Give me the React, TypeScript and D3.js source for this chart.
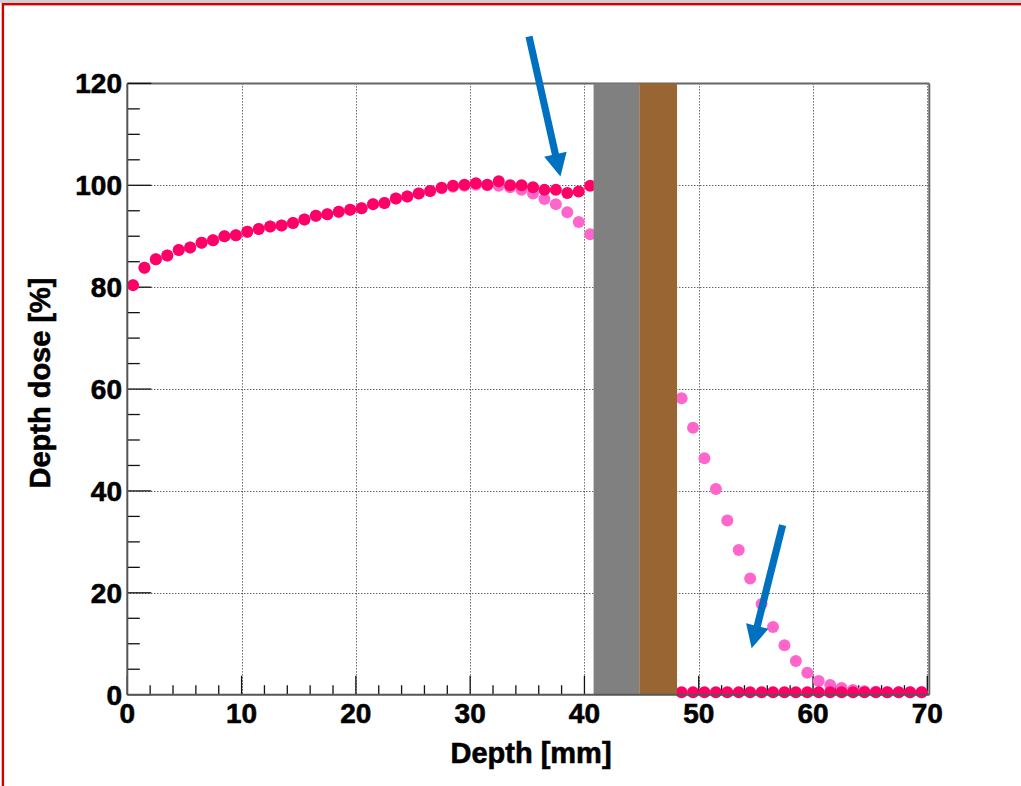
import React from "react";
import * as d3 from "d3";

// Bin centres (mm)
const depthBins = [
  0.5, 1.5, 2.5, 3.5, 4.5, 5.5, 6.5, 7.5, 8.5, 9.5,
  10.5, 11.5, 12.5, 13.5, 14.5, 15.5, 16.5, 17.5, 18.5, 19.5,
  20.5, 21.5, 22.5, 23.5, 24.5, 25.5, 26.5, 27.5, 28.5, 29.5,
  30.5, 31.5, 32.5, 33.5, 34.5, 35.5, 36.5, 37.5, 38.5, 39.5,
  40.5, 41.5, 42.5, 43.5, 44.5, 45.5, 46.5, 47.5, 48.5, 49.5,
  50.5, 51.5, 52.5, 53.5, 54.5, 55.5, 56.5, 57.5, 58.5, 59.5,
  60.5, 61.5, 62.5, 63.5, 64.5, 65.5, 66.5, 67.5, 68.5, 69.5,
];

// Depth dose with the inserted slab (dark pink)
const doseWithSlab: (number | null)[] = [
  80.4, 83.8, 85.5, 86.2, 87.3, 87.8, 88.7, 89.2, 90.0, 90.2,
  90.9, 91.4, 91.9, 92.1, 92.6, 93.3, 94.0, 94.3, 94.8, 95.2,
  95.5, 96.3, 96.5, 97.4, 97.8, 98.4, 98.9, 99.5, 99.9, 100.1,
  100.4, 100.1, 100.8, 100.0, 100.0, 99.6, 99.1, 99.1, 98.5, 98.8,
  99.9, null, null, null, null, null, null, null, 0.5, 0.5,
  0.5, 0.5, 0.5, 0.5, 0.5, 0.5, 0.5, 0.5, 0.5, 0.5,
  0.5, 0.5, 0.5, 0.5, 0.5, 0.5, 0.5, 0.5, 0.5, 0.5,
];

// Reference depth dose (light pink)
const doseReference: (number | null)[] = [
  80.4, 83.8, 85.5, 86.2, 87.3, 87.8, 88.7, 89.2, 90.0, 90.2,
  90.9, 91.4, 91.9, 92.1, 92.6, 93.3, 94.0, 94.3, 94.8, 95.2,
  95.5, 96.3, 96.5, 97.4, 97.8, 98.4, 98.9, 99.4, 99.7, 99.9,
  100.1, 100.0, 99.9, 99.6, 99.1, 98.4, 97.3, 96.3, 94.7, 92.8,
  90.4, null, null, null, null, null, null, null, 58.2, 52.4,
  46.4, 40.4, 34.2, 28.4, 22.8, 17.8, 13.3, 9.7, 6.6, 4.3,
  2.7, 1.9, 1.3, 0.9, 0.7, 0.6, 0.5, 0.5, 0.5, 0.5,
];

// Slab layers (mm)
const slabLayers = [
  { from: 40.8, to: 44.8, color: "#808080" },
  { from: 44.8, to: 48.1, color: "#996633" },
];

// Annotation arrows (data coordinates)
const arrows = [
  { x1: 35.15, y1: 129.2, x2: 37.9, y2: 101.7 },
  { x1: 57.34, y1: 33.3, x2: 54.63, y2: 9.1 },
];

const xTicks = [0, 10, 20, 30, 40, 50, 60, 70];
const yTicks = [0, 20, 40, 60, 80, 100, 120];
const xMinorTicks = d3.range(0, 70.001, 2);
const yMinorTicks = d3.range(0, 120.001, 5);

const W = 1021;
const H = 786;
const FONT = "'Liberation Sans', Arial, Helvetica, sans-serif";

export default function App() {
  const x = d3.scaleLinear().domain([0, 70]).range([127.3, 927.3]);
  const y = d3.scaleLinear().domain([0, 120]).range([694.7, 83.4]);
  const snap = (v: number) => Math.round(v) + 0.5;

  const left = x(0);
  const right = x(70) + 2;
  const top = y(120);
  const bottom = y(0);

  const ref = depthBins
    .map((d, i) => ({ d, v: doseReference[i] }))
    .filter((p) => p.v !== null) as { d: number; v: number }[];
  const slab = depthBins
    .map((d, i) => ({ d, v: doseWithSlab[i] }))
    .filter((p) => p.v !== null) as { d: number; v: number }[];

  const arrowShape = (a: { x1: number; y1: number; x2: number; y2: number }, i: number) => {
    const sx = x(a.x1), sy = y(a.y1), tx = x(a.x2), ty = y(a.y2);
    const dx = tx - sx, dy = ty - sy;
    const len = Math.hypot(dx, dy);
    const ux = dx / len, uy = dy / len;
    const px = -uy, py = ux;
    const headL = 23, headW = 11.5, shaftW = 3.6;
    const bx = tx - ux * headL, by = ty - uy * headL;
    const pts = [
      [sx + px * shaftW, sy + py * shaftW],
      [bx + px * shaftW, by + py * shaftW],
      [bx + px * headW, by + py * headW],
      [tx, ty],
      [bx - px * headW, by - py * headW],
      [bx - px * shaftW, by - py * shaftW],
      [sx - px * shaftW, sy - py * shaftW],
    ];
    return <polygon key={i} points={pts.map((p) => p.join(",")).join(" ")} fill="#0070C0" />;
  };

  return (
    <svg
      width={W}
      height={H}
      style={{ position: "absolute", left: 0, top: 0, background: "#fff" }}
      fontFamily={FONT}
    >
      <rect x={0} y={0} width={W} height={H} fill="#fff" />
      <rect x={0} y={0} width={W} height={3} fill="#d0d0d0" />
      <rect x={2.9} y={4.2} width={W + 10} height={H + 10} fill="none" stroke="#d40000" strokeWidth={2.4} />

      {/* grid */}
      <g stroke="#222" strokeWidth={1} strokeDasharray="1 2">
        {xTicks.filter((t) => t > 0).map((t) => (
          <line key={"gx" + t} x1={snap(x(t))} x2={snap(x(t))} y1={top} y2={bottom} />
        ))}
        {yTicks.filter((t) => t > 0 && t < 120).map((t) => (
          <line key={"gy" + t} x1={left} x2={right} y1={snap(y(t))} y2={snap(y(t))} />
        ))}
      </g>

      {/* frame top / right */}
      <line x1={left} x2={right} y1={top} y2={top} stroke="#666" strokeWidth={2} />
      <line x1={right} x2={right} y1={top} y2={bottom} stroke="#666" strokeWidth={2} />

      {/* ticks */}
      <g stroke="#111" strokeWidth={1.3}>
        {xMinorTicks.map((t) => {
          const major = t % 10 === 0;
          return <line key={"xt" + t} x1={x(t)} x2={x(t)} y1={bottom} y2={bottom - (major ? 19 : 9.5)} />;
        })}
        {yMinorTicks.map((t) => {
          const major = t % 20 === 0;
          return <line key={"yt" + t} x1={left} x2={left + (major ? 24 : 12.5)} y1={y(t)} y2={y(t)} />;
        })}
      </g>

      {/* data */}
      <g fill="#FF66CC">
        {ref.map((p) => (
          <circle key={"r" + p.d} cx={x(p.d)} cy={y(p.v)} r={6} />
        ))}
      </g>
      <g fill="#FF0066">
        {slab.map((p) => (
          <circle key={"s" + p.d} cx={x(p.d)} cy={y(p.v)} r={6} />
        ))}
      </g>

      {/* slab layers */}
      {slabLayers.map((s) => (
        <rect key={s.color} x={x(s.from)} y={top} width={x(s.to) - x(s.from)} height={bottom - top} fill={s.color} />
      ))}

      {/* axes lines */}
      <line x1={left} x2={left} y1={top} y2={bottom} stroke="#555" strokeWidth={2} />
      <line x1={left} x2={right} y1={bottom} y2={bottom} stroke="#555" strokeWidth={2} />

      {/* tick labels */}
      <g fontSize={28} fontWeight="bold" fill="#000" stroke="#000" strokeWidth={0.6}>
        {xTicks.map((t) => (
          <text key={"xl" + t} x={x(t)} y={722.7} textAnchor="middle">
            {t}
          </text>
        ))}
        {yTicks.map((t) => (
          <text key={"yl" + t} x={122} y={y(t) + 10} textAnchor="end">
            {t}
          </text>
        ))}
      </g>

      {/* axis titles */}
      <g fontSize={29} fontWeight="bold" fill="#000" stroke="#000" strokeWidth={0.6}>
        <text x={531} y={763} textAnchor="middle">
          Depth [mm]
        </text>
        <text x={0} y={0} transform={`translate(50,383) rotate(-90)`} textAnchor="middle">
          Depth dose [%]
        </text>
      </g>

      {/* arrows */}
      {arrows.map(arrowShape)}
    </svg>
  );
}
